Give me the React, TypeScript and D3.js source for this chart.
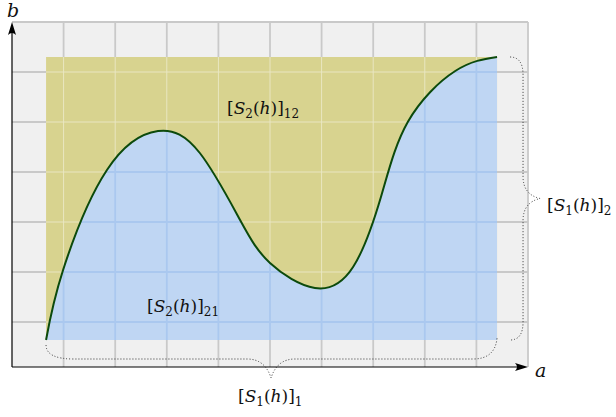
import React from "react";
import * as d3 from "d3";

const W = 616;
const H = 417;

// grid (data units)
const gridXTicks = [1, 2, 3, 4, 5, 6, 7, 8, 9, 10];
const gridYTicks = [0, 1, 2, 3, 4, 5, 6];

// the rectangle [S_1(h)]_1 x [S_1(h)]_2
const rectX = [0.66, 9.4];
const rectY = [-0.36, 5.3];

// the separating curve
const curveXs = [0.66, 0.99, 1.84, 2.83, 3.64, 4.42, 5.0, 5.87, 6.61, 7.15, 7.67, 8.59, 9.4];
const curveYs = [-0.36, 1.04, 3.04, 3.82, 3.38, 2.04, 1.18, 0.68, 1.1, 2.5, 4.0, 5.02, 5.3];

const x = d3.scaleLinear().domain([0, 10]).range([12, 528]);
const y = d3.scaleLinear().domain([-0.9, 6]).range([367, 22]);

const pts: [number, number][] = curveXs.map((v, i) => [v, curveYs[i]]);

const FONT = '"DejaVu Serif", "Liberation Serif", serif';

function Label({ px, py, sub1, sub2, letter }: { px: number; py: number; sub1: string; sub2: string; letter: string }) {
  return (
    <text x={px} y={py} style={{ fontFamily: FONT, fontSize: 17 }} fill="#111">
      <tspan>[</tspan>
      <tspan fontStyle="italic">S</tspan>
      <tspan style={{ fontSize: 12 }} dy={4}>{sub1}</tspan>
      <tspan dy={-4}>(</tspan>
      <tspan fontStyle="italic">{letter}</tspan>
      <tspan>)]</tspan>
      <tspan style={{ fontSize: 12 }} dy={4}>{sub2}</tspan>
    </text>
  );
}

export default function App() {
  const line = d3
    .line<[number, number]>()
    .x((d) => x(d[0]))
    .y((d) => y(d[1]))
    .curve(d3.curveNatural);
  const area = d3
    .area<[number, number]>()
    .x((d) => x(d[0]))
    .y1((d) => y(d[1]))
    .y0(y(rectY[0]))
    .curve(d3.curveNatural);

  const linePath = line(pts) || "";
  const areaPath = area(pts) || "";

  const gx0 = x(0), gx1 = x(10), gy0 = y(-0.9), gy1 = y(6);
  const rx0 = x(rectX[0]), rx1 = x(rectX[1]);
  const ry0 = y(rectY[0]), ry1 = y(rectY[1]);

  const gridLines = (stroke: string, width: number, opacity = 1) => (
    <g stroke={stroke} strokeWidth={width} opacity={opacity}>
      {gridXTicks.map((t) => (
        <line key={"vx" + t} x1={x(t)} x2={x(t)} y1={gy0} y2={gy1} />
      ))}
      {gridYTicks.map((t) => (
        <line key={"hy" + t} x1={gx0} x2={gx1} y1={y(t)} y2={y(t)} />
      ))}
    </g>
  );

  // bottom brace
  const bxm = (rx0 + rx1) / 2 - 0.5;
  const by0 = ry0 + 5;
  const byl = by0 + 14;
  const btip = by0 + 33;
  const bottomBrace = `M${rx0},${by0} Q${rx0},${byl} ${rx0 + 28},${byl} L${bxm - 24},${byl} Q${bxm - 6},${byl} ${bxm},${btip} Q${bxm + 6},${byl} ${bxm + 24},${byl} L${rx1 - 24},${byl} Q${rx1 - 2},${byl} ${rx1},${ry0 - 2}`;

  // right brace
  const rbx0 = rx1 + 13;
  const rbxl = rbx0 + 13;
  const rtip = rbx0 + 30;
  const rym = (ry0 + ry1) / 2;
  const rightBrace = `M${rbx0},${ry1} Q${rbxl},${ry1} ${rbxl},${ry1 + 18} L${rbxl},${rym - 22} Q${rbxl},${rym - 4} ${rtip},${rym} Q${rbxl},${rym + 4} ${rbxl},${rym + 22} L${rbxl},${ry0 - 18} Q${rbxl},${ry0} ${rbx0},${ry0}`;

  return (
    <svg width={W} height={H} style={{ position: "absolute", left: 0, top: 0, background: "#fff" }}>
      <defs>
        <clipPath id="blueClip">
          <path d={areaPath} />
        </clipPath>
        <clipPath id="rectClip">
          <rect x={rx0} y={ry1} width={rx1 - rx0} height={ry0 - ry1} />
        </clipPath>
      </defs>
      <rect x={gx0} y={gy1} width={gx1 - gx0} height={gy0 - gy1} fill="#f0f0f0" />
      {gridLines("#c9c9c9", 1.8)}
      <rect x={rx0} y={ry1} width={rx1 - rx0} height={ry0 - ry1} fill="#d8d38f" />
      <g clipPath="url(#rectClip)">{gridLines("#ffffff", 1, 0.45)}</g>
      <path d={areaPath} fill="#bfd6f3" />
      <g clipPath="url(#blueClip)">{gridLines("#aac8ef", 1.8)}</g>
      <path d={linePath} fill="none" stroke="#0c4a0c" strokeWidth={2} />

      <path d={bottomBrace} fill="none" stroke="#333" strokeWidth={1} strokeDasharray="1 2" />
      <path d={rightBrace} fill="none" stroke="#333" strokeWidth={1} strokeDasharray="1 2" />

      {/* axes */}
      <line x1={gx0} y1={gy0} x2={gx0} y2={gy1 + 6} stroke="#000" strokeWidth={1.2} />
      <line x1={gx0} y1={gy0} x2={gx1 - 6} y2={gy0} stroke="#000" strokeWidth={1.2} />
      <path d={`M${gx0},${gy1} L${gx0 + 4},${gy1 + 13} Q${gx0},${gy1 + 9} ${gx0 - 4},${gy1 + 13} Z`} fill="#000" />
      <path d={`M${gx1},${gy0} L${gx1 - 13},${gy0 - 4} Q${gx1 - 9},${gy0} ${gx1 - 13},${gy0 + 4} Z`} fill="#000" />

      <text x={gx0 - 5} y={17} style={{ fontFamily: FONT, fontSize: 19, fontStyle: "italic" }} fill="#111">b</text>
      <text x={535} y={377} style={{ fontFamily: FONT, fontSize: 19, fontStyle: "italic" }} fill="#111">a</text>

      <Label px={227} py={114} sub1="2" sub2="12" letter="h" />
      <Label px={147} py={312} sub1="2" sub2="21" letter="h" />
      <Label px={238} py={402} sub1="1" sub2="1" letter="h" />
      <Label px={547} py={211} sub1="1" sub2="2" letter="h" />
    </svg>
  );
}
